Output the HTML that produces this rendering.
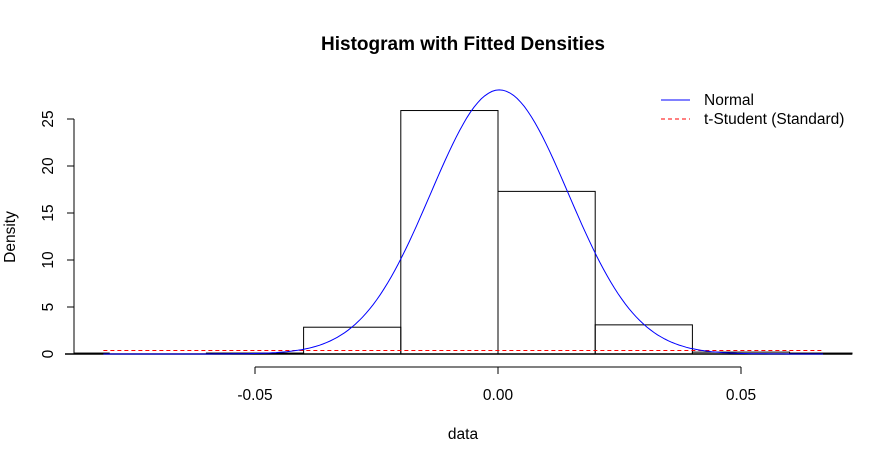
<!DOCTYPE html>
<html><head><meta charset="utf-8"><style>
body{margin:0;background:#fff}
svg{display:block;font-family:"Liberation Sans",sans-serif}
</style></head><body>
<svg id="c" width="879" height="456" xmlns="http://www.w3.org/2000/svg">
<text x="463" y="50" text-anchor="middle" font-size="19" font-weight="bold">Histogram with Fitted Densities</text>
<text x="463" y="439" text-anchor="middle" font-size="15.5">data</text>
<text transform="translate(15,237) rotate(-90)" text-anchor="middle" font-size="15.5">Density</text>
<g id="axes"></g>
<g id="marks"></g>
<g>
<line x1="661" y1="100" x2="690" y2="100" stroke="#00f"/>
<text x="704" y="105" font-size="15.5">Normal</text>
<line x1="661" y1="119" x2="690" y2="119" stroke="#f00" stroke-dasharray="4,3"/>
<text x="704" y="124" font-size="15.5">t-Student (Standard)</text>
</g>
</svg>
<script>
const binEdges=[-0.1,-0.08,-0.06,-0.04,-0.02,0,0.02,0.04,0.06,0.08];
const binDensity=[0.1,0,0.1,2.85,25.9,17.3,3.1,0.2,0.1];
const xTicks=[-0.05,0,0.05];
const xTickLabels=["-0.05","0.00","0.05"];
const yTicks=[0,5,10,15,20,25];
const normalMean=0.0003;
const normalSd=0.0142;
const dataRange=[-0.0812,0.0669];
const tDensity=0.375;

const X=v=>498+v*4860, Y=v=>354-v*9.4;
const NS="http://www.w3.org/2000/svg";
const R=852;
function mk(t,p,a){const e=document.createElementNS(NS,t);for(const k in a)e.setAttribute(k,a[k]);p.appendChild(e);return e;}
const ax=document.getElementById('axes'), mg=document.getElementById('marks');
let e=mk('line',ax,{x1:X(xTicks[0]),x2:X(xTicks[xTicks.length-1]),y1:367,y2:367,stroke:'#000'});


xTicks.forEach((t,i)=>{
  let l=mk('line',ax,{x1:X(t),x2:X(t),y1:367,y2:374,stroke:'#000'});
  
  
  let s=mk('text',ax,{x:X(t),y:400,'text-anchor':'middle','font-size':15.5});
  s.textContent=xTickLabels[i];
  
  
});
e=mk('line',ax,{x1:74,x2:74,y1:Y(yTicks[0]),y2:Y(yTicks[yTicks.length-1]),stroke:'#000'});


yTicks.forEach(t=>{
  let l=mk('line',ax,{x1:67,x2:74,y1:Y(t),y2:Y(t),stroke:'#000'});
  
  
  let s=mk('text',ax,{transform:`translate(53,${Y(t)}) rotate(-90)`,'text-anchor':'middle','font-size':15.5});
  s.textContent=String(t);
  
  
});
binDensity.forEach((d,i)=>{
  let x1=Math.max(X(binEdges[i]),74), x2=Math.min(X(binEdges[i+1]),R);
  if(x2<=x1)return;
  let r=mk('rect',mg,{x:x1,y:Y(d),width:x2-x1,height:Y(0)-Y(d),fill:'none',stroke:'#000'});
  
  
});
e=mk('line',mg,{x1:65,x2:R,y1:Y(0),y2:Y(0),stroke:'#000','stroke-width':1.5});


e=mk('line',mg,{x1:X(dataRange[0]),x2:X(dataRange[1]),y1:Y(tDensity),y2:Y(tDensity),stroke:'#f00','stroke-dasharray':'4,3'});


let pts=[];
for(let k=0;k<=200;k++){const v=dataRange[0]+(dataRange[1]-dataRange[0])*k/200;
  const d=Math.exp(-0.5*((v-normalMean)/normalSd)**2)/(normalSd*Math.sqrt(2*Math.PI));
  pts.push(X(v).toFixed(1)+','+Y(d).toFixed(1));}
e=mk('polyline',mg,{points:pts.join(' '),fill:'none',stroke:'#00f'});


</script>
</body></html>
